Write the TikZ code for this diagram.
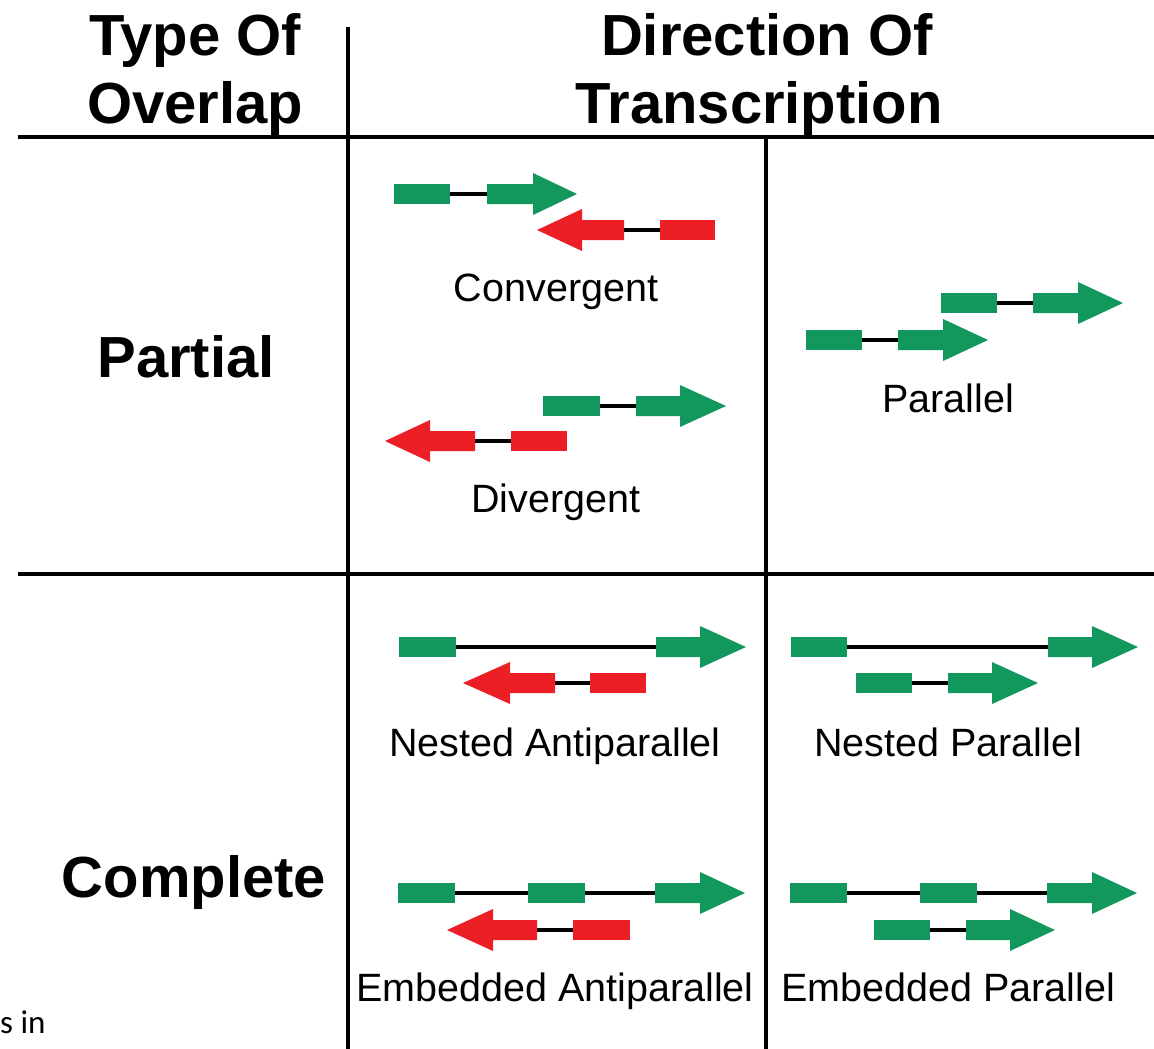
\documentclass[tikz,border=0pt]{standalone}
\usepackage{fontspec}
\setmainfont{Liberation Sans}
\newfontfamily\calibrifont{Carlito}
\definecolor{geneG}{RGB}{18,152,92}
\definecolor{geneR}{RGB}{236,30,38}
\newcommand{\gexon}[4]{\fill[#4] (#1,{#3-10}) rectangle (#2,{#3+10});}
\newcommand{\garrow}[5]{\fill[#5] (#1,{#4-10}) -- (#2,{#4-10}) -- (#2,{#4-21}) -- (#3,#4) -- (#2,{#4+21}) -- (#2,{#4+10}) -- (#1,{#4+10}) -- cycle;}
\newcommand{\gintron}[3]{\draw[intron] (#1,#3) -- (#2,#3);}
\tikzset{
  gridline/.style={line width=3.4pt,black},
  intron/.style={line width=3.1pt,black},
  headtext/.style={font=\bfseries\fontsize{58}{62}\selectfont,anchor=base,inner sep=0pt},
  rowtext/.style={font=\bfseries\fontsize{58}{62}\selectfont,anchor=base,inner sep=0pt},
  labeltext/.style={font=\fontsize{39.5}{44}\selectfont,anchor=base,inner sep=0pt}
}
\begin{document}
\begin{tikzpicture}[x=1pt,y=-1pt]
\useasboundingbox (0,0) rectangle (1154,1049);
% grid
\coordinate (h1l) at (18,137); \coordinate (h1r) at (1154,137);
\coordinate (h2l) at (18,574); \coordinate (h2r) at (1154,574);
\coordinate (v1t) at (348,27); \coordinate (v1b) at (348,1049);
\coordinate (v2t) at (766,137); \coordinate (v2b) at (766,1049);
\draw[gridline] (h1l) -- (h1r);
\draw[gridline] (h2l) -- (h2r);
\draw[gridline] (v1t) -- (v1b);
\draw[gridline] (v2t) -- (v2b);
% headers
\node[headtext] (t1) at (195,56) {Type Of};
\node[headtext] (t2) at (195,123) {Overlap};
\node[headtext] (d1) at (767,56) {Direction Of};
\node[headtext] (d2) at (759,123) {Transcription};
\node[rowtext] (partial) at (186,377) {Partial};
\node[rowtext] (complete) at (194,897) {Complete};
% labels
\node[labeltext] (conv) at (556,301) {Convergent};
\node[labeltext] (div) at (556,512) {Divergent};
\node[labeltext] (par) at (948,412) {Parallel};
\node[labeltext] (nap) at (555,756) {Nested Antiparallel};
\node[labeltext] (np) at (948,756) {Nested Parallel};
\node[labeltext] (eap) at (555,1001) {Embedded Antiparallel};
\node[labeltext] (ep) at (948,1001) {Embedded Parallel};
\node[font=\calibrifont\fontsize{33}{36}\selectfont,anchor=base west,inner sep=0pt] (sin) at (0,1033) {s in};
% Convergent
\gintron{450}{487}{194}
\gexon{394}{450}{194}{geneG}
\garrow{487}{533}{577}{194}{geneG}
\gintron{624}{660}{230}
\garrow{624}{582}{537}{230}{geneR}
\gexon{660}{715}{230}{geneR}
% Divergent
\gintron{600}{636}{406}
\gexon{543}{600}{406}{geneG}
\garrow{636}{680}{726}{406}{geneG}
\gintron{475}{511}{441}
\garrow{475}{430}{385}{441}{geneR}
\gexon{511}{567}{441}{geneR}
% Parallel
\gintron{997}{1033}{303}
\gexon{941}{997}{303}{geneG}
\garrow{1033}{1078}{1123}{303}{geneG}
\gintron{862}{898}{340}
\gexon{806}{862}{340}{geneG}
\garrow{898}{943}{988}{340}{geneG}
% Nested antiparallel
\gintron{456}{656}{647}
\gexon{399}{456}{647}{geneG}
\garrow{656}{700}{746}{647}{geneG}
\gintron{555}{590}{683}
\garrow{555}{510}{463}{683}{geneR}
\gexon{590}{646}{683}{geneR}
% Nested parallel
\gintron{847}{1048}{647}
\gexon{791}{847}{647}{geneG}
\garrow{1048}{1092}{1138}{647}{geneG}
\gintron{912}{948}{683}
\gexon{856}{912}{683}{geneG}
\garrow{948}{992}{1038}{683}{geneG}
% Embedded antiparallel
\gintron{455}{655}{893}
\gexon{398}{455}{893}{geneG}
\gexon{528}{585}{893}{geneG}
\garrow{655}{700}{745}{893}{geneG}
\gintron{537}{573}{930}
\garrow{537}{493}{447}{930}{geneR}
\gexon{573}{630}{930}{geneR}
% Embedded parallel
\gintron{847}{1047}{893}
\gexon{790}{847}{893}{geneG}
\gexon{920}{977}{893}{geneG}
\garrow{1047}{1092}{1137}{893}{geneG}
\gintron{930}{966}{930}
\gexon{874}{930}{930}{geneG}
\garrow{966}{1010}{1055}{930}{geneG}
\end{tikzpicture}
\end{document}
